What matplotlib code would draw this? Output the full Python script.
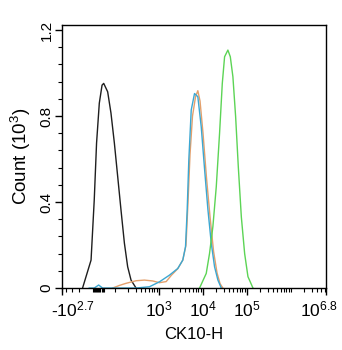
"""CK10-H flow cytometry histogram overlay."""

import matplotlib

matplotlib.use("Agg")
import matplotlib.pyplot as plt
from matplotlib.ticker import FixedLocator
from matplotlib.transforms import ScaledTranslation

plt.rcParams["font.family"] = ["Liberation Sans", "DejaVu Sans"]
plt.rcParams["mathtext.fontset"] = "custom"
plt.rcParams["mathtext.rm"] = "Liberation Sans"
plt.rcParams["mathtext.it"] = "Liberation Sans:italic"
plt.rcParams["mathtext.default"] = "regular"

# intensity (CK10-H) and count (10^3)
black_x = [-170, -109, -86, -65, -40, -15, 0, 36, 66, 97, 117, 139, 166, 197, 235, 306]
black_y = [0, 0.13, 0.41, 0.674, 0.86, 0.944, 0.952, 0.913, 0.814, 0.674, 0.518, 0.363, 0.209, 0.099, 0.037, 0]

blue_x = [-120, -86, -46, -10, 100, 300, 615, 1040, 1754, 2710, 3524, 4064, 4436, 4830, 5480,
          6516, 7745, 9250, 11020, 13100, 15630, 18580, 22130, 26400]
blue_y = [0, 0, 0.014, 0, 0, 0, 0.006, 0.029, 0.060, 0.091, 0.130, 0.192, 0.363, 0.595, 0.828,
          0.905, 0.89, 0.75, 0.553, 0.367, 0.209, 0.099, 0.037, 0]

orange_x = [81, 127, 181, 306, 473, 731, 1040, 1476, 1950, 2710, 3524, 4170, 4634, 5140, 5860,
            6870, 7745, 8690, 10160, 12220, 14690, 17660, 21180, 24830, 28710]
orange_y = [0, 0.012, 0.022, 0.034, 0.037, 0.033, 0.025, 0.030, 0.06, 0.09, 0.13, 0.2, 0.4, 0.62,
            0.80, 0.89, 0.918, 0.87, 0.72, 0.51, 0.33, 0.17, 0.07, 0.02, 0]

green_x = [8470, 12020, 14290, 17010, 20320, 24150, 27860, 31410, 37330, 42360, 48530, 55980,
           64420, 75510, 89750, 106700, 138700]
green_y = [0, 0.068, 0.161, 0.285, 0.471, 0.72, 0.952, 1.076, 1.107, 1.076, 0.983, 0.797,
           0.563, 0.33, 0.16, 0.053, 0]

x_major = [-10 ** 2.7, 1e3, 1e4, 1e5, 10 ** 6.8]
x_major_labels = ["-10$^{2.7}$", "10$^{3}$", "10$^{4}$", "10$^{5}$", "10$^{6.8}$"]
x_minor = ([-500, -400, -300, -200] + list(range(-100, 1, 10))
           + [m * 10 ** k for k in range(2, 7) for m in range(1, 10) if m * 10 ** k < 10 ** 6.8])
y_major = [0, 0.4, 0.8, 1.2]
y_major_labels = ["0", "0.4", "0.8", "1.2"]
y_minor = [i * 0.08 for i in range(16)]

fig = plt.figure(figsize=(3.42, 3.5), dpi=100)
ax = fig.add_axes([0.181, 0.177, 0.772, 0.753])

ax.plot(black_x, black_y, color="#1e1e1e", linewidth=1.0)
ax.plot(orange_x, orange_y, color="#e3a06c", linewidth=1.0)
ax.plot(blue_x, blue_y, color="#3ba7d2", linewidth=1.0)
ax.plot(green_x, green_y, color="#5cd455", linewidth=1.0)

ax.set_xscale("symlog", linthresh=100, linscale=0.225)
ax.set_xlim(-10 ** 2.7, 10 ** 6.8)
ax.set_ylim(0, 1.226)

ax.xaxis.set_major_locator(FixedLocator(x_major))
ax.set_xticklabels(x_major_labels)
ax.xaxis.set_minor_locator(FixedLocator(x_minor))
ax.yaxis.set_major_locator(FixedLocator(y_major))
ax.set_yticklabels(y_major_labels)
ax.yaxis.set_minor_locator(FixedLocator(y_minor))

ax.tick_params(axis="both", which="major", length=5, width=1)
ax.tick_params(axis="both", which="minor", length=3, width=0.8)
ax.tick_params(axis="x", labelsize=12.5, pad=3)
ax.tick_params(axis="y", labelsize=11, labelrotation=90, pad=1)
for lbl in ax.get_yticklabels():
    lbl.set_verticalalignment("center")

xlabels = ax.get_xticklabels()
first = xlabels[0]
first.set_horizontalalignment("left")
first.set_transform(first.get_transform() + ScaledTranslation(-11 / 100, 0, fig.dpi_scale_trans))
last = xlabels[-1]
last.set_transform(last.get_transform() + ScaledTranslation(-7 / 100, 0, fig.dpi_scale_trans))

ax.set_xlabel("CK10-H", fontsize=12, labelpad=6)
ax.set_ylabel("Count (10$^{3}$)", fontsize=13.5, labelpad=5)

for sp in ax.spines.values():
    sp.set_linewidth(1.0)

fig.savefig("out.png", dpi=100)
plt.close(fig)
